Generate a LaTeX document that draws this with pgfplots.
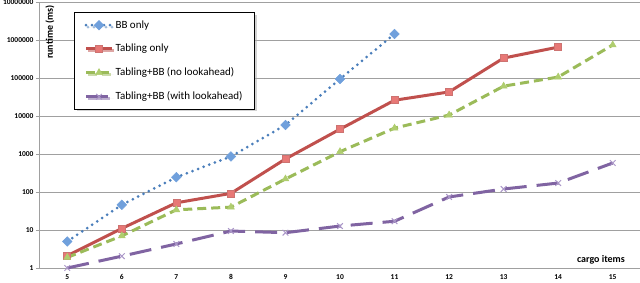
\documentclass[border=0pt]{standalone}
\usepackage{fontspec}
\setmainfont{Carlito}
\usepackage{pgfplots}
\pgfplotsset{compat=1.18}
\usetikzlibrary{shadows}
\definecolor{xblue}{RGB}{74,126,187}
\definecolor{xbluem}{RGB}{112,160,220}
\definecolor{xred}{RGB}{192,80,77}
\definecolor{xredm}{RGB}{232,120,118}
\definecolor{xgreen}{RGB}{155,187,89}
\definecolor{xgreenm}{RGB}{175,205,110}
\definecolor{xpurple}{RGB}{128,100,162}
\definecolor{xpurplem}{RGB}{170,150,200}
\definecolor{gridgray}{RGB}{160,160,160}
\begin{document}
\begin{tikzpicture}
\path[use as bounding box] (-40pt,-14pt) rectangle (600pt,268pt);
\begin{axis}[
  scale only axis,
  width=600pt, height=266pt,
  at={(0,0)}, anchor=south west,
  ymode=log,
  xmin=4.5, xmax=15.5,
  ymin=1, ymax=1e7,
  axis x line=bottom, axis y line=left,
  axis line style={gridgray, line width=1pt, -},
  xtick={5,...,15},
  xticklabels={5,6,7,8,9,10,11,12,13,14,15},
  ytick={1,10,100,1000,10000,100000,1000000,10000000},
  yticklabels={1,10,100,1000,10000,100000,1000000,10000000},
  log basis y=10,
  yminorticks=false,
  ymajorgrids,
  grid style={gridgray, line width=1pt},
  major tick length=4pt,
  xtick style={draw=none},
  ytick style={gridgray, line width=1pt},
  tick align=outside,
  ticklabel style={font=\fontsize{7.5}{8}\selectfont\bfseries},
  yticklabel style={xshift=1pt},
  xticklabel style={yshift=1pt},
  clip=false,
  legend image code/.code={
    \draw[mark repeat=2,mark phase=2,#1] plot coordinates {(0pt,0pt)(13pt,0pt)(26pt,0pt)};
  },
  legend style={
    at={(rel axis cs:0.0567,0.962)}, anchor=north west,
    draw=black, line width=1pt, fill=white,
    drop shadow={shadow xshift=2pt, shadow yshift=-2pt, fill=black!35},
    font=\fontsize{11}{13}\selectfont,
    inner xsep=10pt, inner ysep=6pt,
    row sep=10.5pt,
    legend cell align=left,
  },
]
\addplot[xblue, line width=3pt, line cap=round, dash pattern=on 0pt off 6pt,
  mark=square*, mark size=3.4pt, mark options={solid, rotate=45, fill=xbluem, draw=xbluem, line width=0.5pt}]
  coordinates {(5,5.0) (6,46) (7,245) (8,860) (9,5800) (10,94000) (11,1440000)};
\addlegendentry{BB only}
\addplot[xred, line width=3pt, solid,
  mark=square*, mark size=3.5pt, mark options={solid, fill=xredm, draw=xred!80, line width=0.6pt}]
  coordinates {(5,2.1) (6,11) (7,52) (8,92) (9,740) (10,4500) (11,26000) (12,43000) (13,335000) (14,650000)};
\addlegendentry{Tabling only}
\addplot[xgreen, line width=3pt, dash pattern=on 9pt off 5pt,
  mark=triangle*, mark size=4pt, mark options={solid, fill=xgreenm, draw=xgreenm, line width=0.5pt}]
  coordinates {(5,1.9) (6,7) (7,34) (8,40) (9,220) (10,1150) (11,4800) (12,10600) (13,61000) (14,106000) (15,740000)};
\addlegendentry{Tabling+BB (no lookahead)}
\addplot[xpurple, line width=3pt, dash pattern=on 22pt off 10pt,
  mark=x, mark size=4pt, mark options={solid, draw=xpurplem, line width=1pt}]
  coordinates {(5,1.0) (6,2.05) (7,4.3) (8,9.4) (9,8.5) (10,12.7) (11,17) (12,74) (13,120) (14,172) (15,580)};
\addlegendentry{Tabling+BB (with lookahead)}
\node[rotate=90, anchor=east, font=\fontsize{10}{12}\selectfont\bfseries, inner sep=0pt]
  at (rel axis cs:0.0167,0.989) {runtime (ms)};
\node[anchor=east, font=\fontsize{10}{12}\selectfont\bfseries, inner sep=0pt]
  at (rel axis cs:0.975,0.03) {cargo items};
\end{axis}
\end{tikzpicture}
\end{document}
